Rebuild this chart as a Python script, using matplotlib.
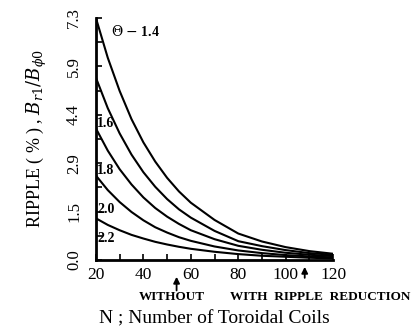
import matplotlib
matplotlib.use("Agg")
import matplotlib.pyplot as plt
import numpy as np

plt.rcParams['font.family'] = ['Liberation Serif', 'DejaVu Serif']
plt.rcParams['mathtext.fontset'] = 'dejavuserif'

# Number of toroidal coils
n_coils = [20, 25, 30, 35, 40, 45, 50, 55, 60, 70, 80, 90, 100, 110, 120]

# Ripple (%) for each ellipticity value
ripple_14 = [7.30, 6.10, 5.10, 4.25, 3.55, 2.97, 2.48, 2.07, 1.73, 1.21, 0.80, 0.56, 0.39, 0.27, 0.19]
ripple_16 = [5.50, 4.58, 3.82, 3.18, 2.65, 2.21, 1.84, 1.53, 1.28, 0.88, 0.57, 0.42, 0.30, 0.21, 0.16]
ripple_18 = [3.97, 3.30, 2.74, 2.28, 1.89, 1.57, 1.31, 1.09, 0.90, 0.63, 0.43, 0.31, 0.22, 0.16, 0.12]
ripple_20 = [2.55, 2.11, 1.75, 1.45, 1.20, 0.99, 0.83, 0.69, 0.58, 0.41, 0.29, 0.21, 0.15, 0.11, 0.08]
ripple_22 = [1.26, 1.06, 0.90, 0.76, 0.65, 0.55, 0.47, 0.40, 0.34, 0.25, 0.18, 0.13, 0.10, 0.07, 0.05]

curves = [ripple_14, ripple_16, ripple_18, ripple_20, ripple_22]
curve_labels = ['1.6', '1.8', '2.0', '2.2']
label_y = [4.13, 2.71, 1.54, 0.66]

ytick_vals = [0.0, 1.46, 2.92, 4.38, 5.84, 7.3]
ytick_labels = ['0.0', '1.5', '2.9', '4.4', '5.9', '7.3']
xtick_vals = [20, 40, 60, 80, 100, 120]

fig = plt.figure(figsize=(4.17, 3.33), dpi=100)
ax = fig.add_axes([0.230, 0.219, 0.569, 0.727])

for c in curves:
    ax.plot(n_coils, c, color='black', lw=1.5)

ax.set_xlim(20, 120)
ax.set_ylim(0, 7.3)

# axes style: only left/bottom, ticks inward
ax.spines['top'].set_visible(False)
ax.spines['right'].set_visible(False)
ax.spines['left'].set_linewidth(2)
ax.spines['bottom'].set_linewidth(2)

ax.set_xticks(xtick_vals)
ax.set_xticks(np.arange(20, 121, 10), minor=True)
ax.set_yticks(ytick_vals)
ax.set_yticklabels(ytick_labels)
ax.set_yticks(np.arange(0, 7.31, 0.73), minor=True)
ax.tick_params(which='both', direction='in', width=1.2, length=4)
ax.tick_params(axis='x', labelsize=12.5, pad=5)
ax.tick_params(axis='y', labelsize=12, pad=10)
for t in ax.get_yticklabels():
    t.set_rotation(90)
    t.set_va('center')

ax.set_ylabel(r'RIPPLE ( % ) , $B_{r1}/B_{\phi 0}$', fontsize=13, labelpad=12)
ax.set_xlabel('N ; Number of Toroidal Coils', fontsize=14, labelpad=20)

# curve labels
ax.text(26.5, 6.75, r'$\Theta$ $-$ 1.4', fontsize=10, fontweight='bold')
for lab, yy in zip(curve_labels, label_y):
    ax.text(20.6, yy, lab, fontsize=10, fontweight='bold', va='center')

# arrows and annotations below the axis
ax.annotate('', xy=(54, -0.42), xytext=(54, -1.0), xycoords='data',
            arrowprops=dict(arrowstyle='-|>', color='black', lw=1.3, mutation_scale=9),
            annotation_clip=False)
ax.annotate('', xy=(108, -0.12), xytext=(108, -0.62), xycoords='data',
            arrowprops=dict(arrowstyle='-|>', color='black', lw=1.3, mutation_scale=9),
            annotation_clip=False)
ax.text(52, -1.12, 'WITHOUT', fontsize=9.5, fontweight='bold', ha='center', va='center')
ax.text(114.5, -1.12, 'WITH  RIPPLE  REDUCTION', fontsize=9.5, fontweight='bold',
        ha='center', va='center')

fig.savefig('out.png', dpi=100)
